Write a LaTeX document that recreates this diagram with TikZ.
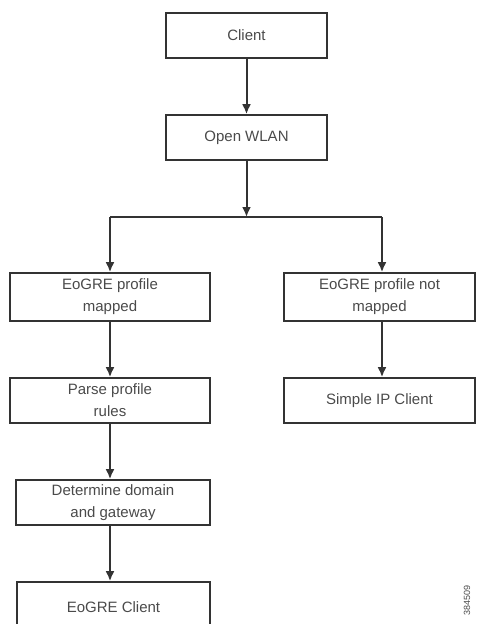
\documentclass[tikz,border=0pt]{standalone}
\usepackage{fontspec}
\setmainfont{Liberation Sans}
\usetikzlibrary{arrows.meta}
\definecolor{linegray}{HTML}{333333}
\definecolor{textgray}{HTML}{4A4A4A}
\tikzset{
  box/.style={draw=linegray, line width=1.6pt, rectangle, inner sep=0pt, align=center,
    text=textgray, font=\fontsize{15}{22}\selectfont},
  conn/.style={draw=linegray, line width=2pt},
  arr/.style={conn, -{Latex[length=10pt,width=9pt]}}
}
\begin{document}
\begin{tikzpicture}[x=1pt,y=-1pt]
\useasboundingbox (0,0) rectangle (478,624);
\node[box, minimum width=161pt, minimum height=45pt] (client) at (246.5,35.5) {Client};
\node[box, minimum width=161pt, minimum height=45pt] (wlan) at (246.5,137.5) {Open WLAN};
\node[box, minimum width=200pt, minimum height=48pt] (epm) at (110,297) {EoGRE profile\\mapped};
\node[box, minimum width=191pt, minimum height=48pt] (epnm) at (379.5,297) {EoGRE profile not\\mapped};
\node[box, minimum width=200pt, minimum height=45pt] (parse) at (110,400.5) {Parse profile\\rules};
\node[box, minimum width=191pt, minimum height=45pt] (simple) at (379.5,400.5) {Simple IP Client};
\node[box, minimum width=194pt, minimum height=45pt] (det) at (113,502.5) {Determine domain\\and gateway};
\node[box, minimum width=193pt, minimum height=50pt] (eog) at (113.5,607) {EoGRE Client};
\coordinate (j) at (246.5,217);
\coordinate (jl) at (110,217);
\coordinate (jr) at (382,217);
\draw[arr] (client) -- (wlan);
\draw[arr] (wlan) -- (j);
\draw[conn] (jl) -- (jr);
\draw[arr] (jl) -- (jl |- epm.north);
\draw[arr] (jr) -- (jr |- epnm.north);
\draw[arr] (epm.south -| jl) -- (parse.north -| jl);
\draw[arr] (epnm.south -| jr) -- (simple.north -| jr);
\draw[arr] (parse.south -| jl) -- (det.north -| jl);
\draw[arr] (det.south -| jl) -- (eog.north -| jl);
\node[text=textgray, font=\fontsize{9}{10}\selectfont, rotate=90, inner sep=0pt] (fig) at (467,600) {384509};
\end{tikzpicture}
\end{document}
